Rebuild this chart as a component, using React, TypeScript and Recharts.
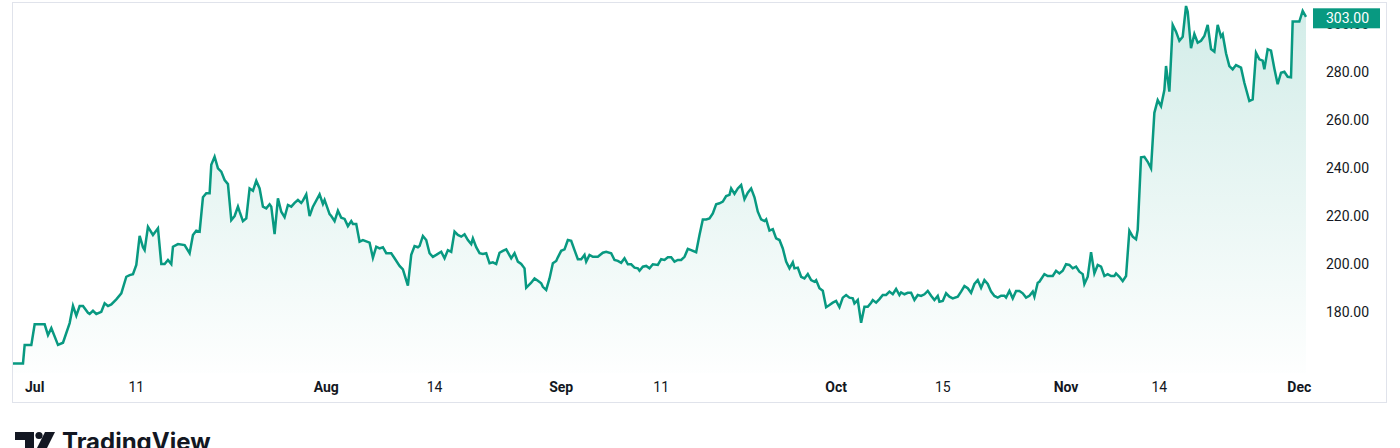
import React from 'react';
import { AreaChart, Area, XAxis, YAxis } from 'recharts';

// bar index (time) of each vertex of the close line
const times: number[] = [
  0, 6, 7, 11, 13, 19, 21, 23, 27, 30, 34, 36, 38, 40, 42, 45, 46, 48, 50, 53,
  55, 57, 59, 62, 65, 68, 70, 72, 74, 76, 78, 79, 81, 84, 87, 89, 91, 93, 95, 96,
  99, 103, 106, 108, 110, 112, 114, 116, 118, 119, 121, 123, 125, 127, 129, 131, 133, 135, 136, 138,
  140, 142, 144, 146, 148, 150, 152, 154, 155, 157, 159, 161, 163, 165, 167, 169, 171, 173, 174, 176,
  178, 180, 184, 186, 187, 190, 191, 193, 195, 197, 199, 201, 203, 204, 206, 208, 210, 214, 216, 218,
  220, 222, 224, 227, 229, 232, 234, 237, 239, 241, 243, 244, 246, 248, 250, 252, 254, 257, 259, 261,
  263, 265, 267, 269, 271, 273, 275, 276, 278, 280, 282, 284, 286, 288, 290, 292, 294, 296, 299, 301,
  303, 305, 307, 308, 311, 313, 315, 317, 318, 320, 322, 324, 326, 327, 329, 331, 333, 335, 337, 339,
  341, 343, 344, 346, 348, 351, 354, 356, 359, 361, 363, 365, 367, 369, 371, 373, 375, 376, 378, 380,
  382, 384, 387, 389, 391, 393, 395, 397, 399, 401, 403, 405, 407, 410, 412, 414, 416, 418, 420, 422,
  424, 426, 428, 430, 431, 433, 435, 437, 439, 441, 443, 445, 447, 449, 451, 452, 454, 456, 458, 460,
  462, 464, 466, 468, 469, 471, 473, 475, 477, 479, 481, 482, 484, 486, 488, 490, 492, 494, 496, 498,
  500, 502, 504, 505, 507, 509, 511, 513, 515, 516, 518, 520, 522, 524, 526, 528, 530, 532, 533, 535,
  537, 539, 541, 543, 545, 547, 549, 551, 553, 555, 556, 558, 560, 562, 564, 567, 569, 571, 573, 575,
  577, 579, 581, 583, 585, 587, 589, 591, 593, 595, 596, 598, 600, 602, 604, 606, 608, 610, 612, 613,
  615, 616, 619, 621, 624, 626, 628, 630, 632, 634, 636, 638, 640, 642, 643, 645, 647, 649, 651, 653,
  655, 657, 659, 661, 662, 664, 666, 668, 670, 672, 674, 675, 677, 679, 681, 683, 685, 687, 689, 691,
  692, 694, 696, 698, 700, 702, 704, 705, 707, 709, 711, 713, 715, 717, 719, 721, 723, 725, 726, 728,
  730, 732, 734, 737, 739, 742, 744, 746, 748, 750, 751, 753, 755, 757, 759, 761, 763, 765, 767, 768,
  770, 772, 774, 776,
];

const prices: number[] = [
  158.6, 158.6, 166.3, 166.3, 174.9, 174.9, 170.4, 173.3, 166.3, 167.2, 175.4, 182.6, 178.5, 182.5, 182.5, 179.7, 179.2, 180.5, 179.2, 180.1,
  183.6, 182.5, 183.2, 185.3, 187.8, 194.7, 195.4, 195.8, 199.6, 211.7, 207.0, 205.8, 215.5, 212.1, 214.9, 200.0, 200.0, 201.7, 200.0, 207.2,
  208.3, 207.9, 204.5, 212.1, 213.9, 213.5, 227.8, 229.5, 229.5, 241.3, 244.7, 239.9, 238.5, 235.0, 233.3, 218.3, 220.0, 223.9, 221.8, 217.9,
  219.0, 231.5, 230.5, 234.7, 231.5, 223.9, 223.2, 224.9, 223.9, 212.5, 227.4, 221.8, 219.5, 224.6, 223.9, 225.5, 226.7, 225.5, 226.4, 229.0,
  220.0, 223.9, 229.0, 225.0, 226.7, 220.8, 220.0, 217.9, 222.2, 219.3, 218.8, 215.8, 217.9, 216.7, 216.7, 209.3, 210.0, 208.9, 202.6, 207.2,
  206.5, 207.0, 204.5, 204.5, 202.4, 199.2, 197.8, 191.0, 203.8, 207.5, 207.0, 207.5, 211.7, 210.0, 204.5, 203.0, 203.8, 205.1, 202.4, 205.8,
  205.1, 213.5, 212.1, 211.4, 212.4, 210.0, 208.3, 210.7, 207.0, 204.5, 204.2, 204.5, 200.3, 200.7, 200.0, 204.7, 205.5, 206.1, 202.4, 204.5,
  201.0, 200.0, 198.2, 190.1, 192.2, 194.0, 193.0, 192.0, 190.5, 189.2, 194.0, 200.3, 201.3, 202.8, 205.5, 206.1, 210.0, 209.7, 205.8, 202.0,
  202.0, 203.8, 201.0, 203.8, 203.0, 203.0, 204.7, 205.1, 204.5, 201.7, 201.3, 200.5, 202.4, 199.9, 199.9, 198.5, 198.2, 197.2, 198.9, 199.2,
  198.2, 199.9, 199.6, 202.0, 201.7, 202.8, 202.8, 201.0, 201.7, 201.7, 203.0, 206.3, 205.8, 204.9, 212.1, 218.6, 218.6, 219.0, 221.1, 224.9,
  225.3, 226.0, 228.3, 228.8, 231.5, 229.2, 231.5, 232.9, 227.0, 229.7, 231.5, 227.8, 221.8, 218.6, 217.9, 218.6, 213.9, 214.5, 210.7, 210.0,
  206.5, 201.0, 198.2, 200.7, 198.2, 198.5, 194.7, 194.0, 195.8, 193.3, 192.6, 193.3, 189.9, 188.9, 182.0, 182.9, 183.9, 184.6, 182.0, 186.0,
  187.1, 186.0, 185.7, 183.6, 185.0, 175.5, 182.2, 182.2, 183.9, 185.0, 183.9, 185.4, 187.1, 187.1, 188.5, 187.4, 189.6, 187.1, 188.2, 187.4,
  188.0, 188.0, 185.0, 187.1, 186.7, 187.4, 188.8, 186.8, 185.0, 186.7, 184.3, 184.6, 187.8, 186.4, 185.7, 186.4, 188.5, 190.8, 189.9, 188.0,
  191.7, 193.3, 190.1, 193.3, 191.7, 188.5, 186.7, 186.0, 186.8, 186.8, 186.0, 188.8, 185.7, 188.8, 188.8, 187.8, 186.0, 186.8, 188.5, 186.4,
  192.2, 192.6, 195.8, 195.0, 195.0, 197.2, 196.1, 197.2, 199.9, 199.6, 198.2, 198.9, 196.8, 195.8, 191.7, 194.7, 204.9, 196.1, 199.6, 198.9,
  195.0, 195.8, 195.0, 195.0, 196.1, 194.7, 192.9, 195.0, 213.9, 211.4, 210.3, 214.2, 244.5, 244.7, 242.6, 239.9, 263.0, 268.3, 265.8, 272.5,
  282.5, 271.8, 299.6, 296.8, 293.0, 294.7, 307.5, 305.1, 289.9, 295.8, 292.2, 293.0, 295.0, 299.6, 289.6, 288.5, 299.6, 294.7, 295.7, 287.8,
  282.5, 281.1, 282.9, 281.8, 275.5, 267.9, 268.6, 288.0, 285.3, 284.7, 281.1, 289.5, 288.9, 281.5, 274.9, 279.7, 280.1, 278.0, 277.8, 301.0,
  301.0, 301.0, 305.5, 303.0,
];

const timeTickBars: number[] = [13, 74, 188, 253, 329, 389, 494, 558, 632, 688, 772];
const timeTickLabels: string[] = ['Jul', '11', 'Aug', '14', 'Sep', '11', 'Oct', '15', 'Nov', '14', 'Dec'];
const monthLabels: string[] = ['Jul', 'Aug', 'Sep', 'Oct', 'Nov', 'Dec'];
const priceTicks: number[] = [180, 200, 220, 240, 260, 280, 300];

const data = times.map((t, i) => ({ t, price: prices[i] }));
const lastPrice = prices[prices.length - 1];
const priceDomain: [number, number] = [154.6, 308.75];

const FONT = 'Roboto, "Noto Sans", "DejaVu Sans", sans-serif';
const TEXT = '#131722';
const GREEN = '#089981';

function TimeTick(props: any) {
  const { x, y, payload } = props;
  const idx = timeTickBars.indexOf(payload.value);
  const label = idx >= 0 ? timeTickLabels[idx] : '';
  const bold = monthLabels.includes(label);
  return (
    <text x={x} y={y} dy={19} textAnchor="middle" fontFamily={FONT} fontSize={14}
      fontWeight={bold ? 700 : 400} fill={TEXT}>
      {label}
    </text>
  );
}

function PriceTick(props: any) {
  const { x, y, payload } = props;
  return (
    <text x={x} y={y} dy={5} textAnchor="start" fontFamily={FONT} fontSize={14} fill={TEXT}>
      {Number(payload.value).toFixed(2)}
    </text>
  );
}

// last-price badge, drawn by a thin axis declared after the price axis so it sits on top
function BadgeTick(props: any) {
  const { x, y, payload } = props;
  const cy = y + 1.5;
  return (
    <g>
      <rect x={x + 7} y={cy - 10} width={67} height={20} fill={GREEN} />
      <text x={x + 20} y={cy + 5} fontFamily={FONT} fontSize={14} fill="#ffffff">
        {Number(payload.value).toFixed(2)}
      </text>
    </g>
  );
}

export default function App() {
  return (
    <div style={{ position: 'absolute', left: 0, top: 0, width: 1400, height: 448, overflow: 'hidden', background: '#ffffff' }}>
      <div style={{ position: 'absolute', left: 12, top: 2, width: 1375, height: 401, border: '1px solid #e0e3eb', boxSizing: 'border-box' }} />
      <div style={{ position: 'absolute', left: 0, top: 0 }}>
        <AreaChart width={1400} height={448} data={data} margin={{ top: 3, right: 13, bottom: 45, left: 13 }}>
          <defs>
            <linearGradient id="areaFill" x1="0" y1="0" x2="0" y2="1">
              <stop offset="0%" stopColor={GREEN} stopOpacity={0.3} />
              <stop offset="100%" stopColor={GREEN} stopOpacity={0.01} />
            </linearGradient>
          </defs>
          <XAxis dataKey="t" type="number" domain={[0, 776]} ticks={timeTickBars} interval={0}
            axisLine={false} tickLine={false} tickSize={0} tickMargin={0} height={30} tick={<TimeTick />} />
          <YAxis yAxisId="price" orientation="right" type="number" domain={priceDomain} ticks={priceTicks} interval={0}
            axisLine={false} tickLine={false} tickSize={0} tickMargin={19} width={80} tick={<PriceTick />} />
          <YAxis yAxisId="badge" orientation="right" type="number" domain={priceDomain} ticks={[lastPrice]} interval={0}
            allowDecimals={true} axisLine={false} tickLine={false} tickSize={0} tickMargin={0} width={1} tick={<BadgeTick />} />
          <Area yAxisId="price" type="linear" dataKey="price" stroke={GREEN} strokeWidth={2.5} fill="url(#areaFill)"
            dot={false} activeDot={false} isAnimationActive={false} />
          <Area yAxisId="badge" type="linear" dataKey="price" stroke="none" fill="none"
            dot={false} activeDot={false} isAnimationActive={false} legendType="none" />
        </AreaChart>
      </div>
      <svg style={{ position: 'absolute', left: 0, top: 420 }} width={260} height={28}>
        <path d="M15 12 H34 V30 H25 V20 H15 Z" fill={TEXT} />
        <circle cx={39} cy={15.5} r={3.6} fill={TEXT} />
        <path d="M45 12 H55 L46 30 H36 Z" fill={TEXT} />
        <text x={62} y={30} fontFamily='Inter, "Noto Sans", sans-serif' fontSize={24} fontWeight={700} fill={TEXT}>
          TradingView
        </text>
      </svg>
    </div>
  );
}
